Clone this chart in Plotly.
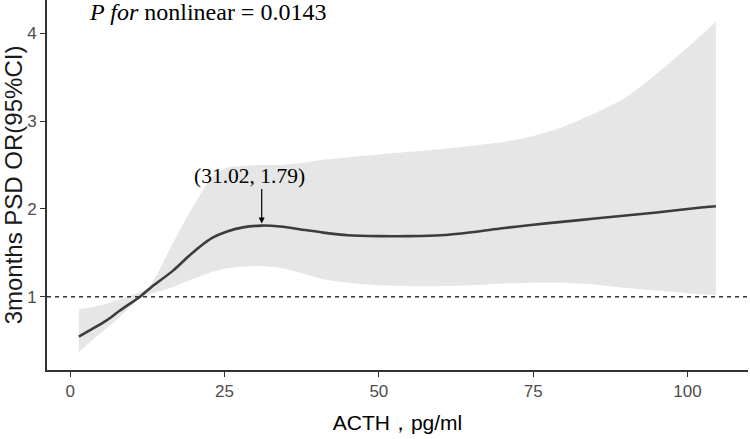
import plotly.graph_objects as go

# ACTH values (pg/ml) along the spline
acth = [1.4, 3, 5.9, 8, 11.3, 13, 16.7, 19, 21, 23, 25.3, 28, 31, 34, 38, 41, 45,
        50, 55, 60, 65, 70, 75, 80, 85, 90, 95, 100, 104.6]
# Odds ratio estimate
odds_ratio = [0.545, 0.61, 0.73, 0.84, 1.0, 1.10, 1.30, 1.45, 1.57, 1.67, 1.74, 1.79,
              1.81, 1.80, 1.76, 1.73, 1.70, 1.69, 1.69, 1.70, 1.735, 1.78, 1.82, 1.855,
              1.89, 1.925, 1.96, 2.0, 2.03]
# 95% CI upper bound
ci_upper = [0.86, 0.87, 0.92, 0.97, 1.05, 1.13, 1.62, 1.92, 2.16, 2.37, 2.47, 2.49,
            2.50, 2.50, 2.53, 2.56, 2.59, 2.62, 2.65, 2.68, 2.72, 2.76, 2.83, 2.94,
            3.09, 3.27, 3.54, 3.84, 4.13]
# 95% CI lower bound
ci_lower = [0.37, 0.47, 0.64, 0.77, 0.98, 1.03, 1.11, 1.18, 1.23, 1.28, 1.32, 1.34,
            1.35, 1.33, 1.26, 1.20, 1.16, 1.13, 1.12, 1.12, 1.13, 1.15, 1.16, 1.16,
            1.14, 1.10, 1.07, 1.04, 1.02]

x_ticks = [0, 25, 50, 75, 100]
y_ticks = [1, 2, 3, 4]
peak_x, peak_y = 31.02, 1.81
peak_label = "(31.02, 1.79)"
p_text = "<i>P for</i> nonlinear = 0.0143"

sans = "Liberation Sans, Arial, sans-serif"
serif = "Liberation Serif, Times New Roman, serif"

fig = go.Figure()
fig.add_trace(go.Scatter(
    x=acth, y=ci_lower, mode="lines", line=dict(width=0, shape="spline", smoothing=0.6),
    hoverinfo="skip", showlegend=False))
fig.add_trace(go.Scatter(
    x=acth, y=ci_upper, mode="lines", line=dict(width=0, shape="spline", smoothing=0.6),
    fill="tonexty", fillcolor="#E6E6E6", hoverinfo="skip", showlegend=False))
fig.add_trace(go.Scatter(
    x=acth, y=odds_ratio, mode="lines",
    line=dict(color="#3C3C3C", width=2.6, shape="spline", smoothing=0.8),
    showlegend=False))

fig.add_shape(type="line", xref="paper", yref="y", x0=0, x1=1, y0=1, y1=1,
              line=dict(color="#333333", width=1.5, dash="4px,4px"))

fig.add_annotation(x=peak_x, y=peak_y, ax=0, ay=-38, text="", showarrow=True,
                   arrowhead=2, arrowsize=1, arrowwidth=1.2, arrowcolor="black",
                   standoff=2)
fig.add_annotation(x=peak_x, y=peak_y, text=peak_label, showarrow=False,
                   xshift=-12, yshift=50, font=dict(family=serif, size=21.5, color="black"))
fig.add_annotation(xref="paper", yref="paper", x=(86.7 - 47) / 701, y=1 - 12 / 370,
                   xanchor="left", yanchor="middle", text=p_text, showarrow=False,
                   font=dict(family=serif, size=24, color="black"))

fig.update_layout(
    width=750, height=439,
    margin=dict(l=47, r=2, t=0, b=69),
    paper_bgcolor="white", plot_bgcolor="white",
    xaxis=dict(range=[-3.76, 109.8], tickvals=x_ticks, showgrid=False, zeroline=False,
               showline=True, linecolor="#333333", linewidth=1.6,
               ticks="outside", ticklen=5, tickwidth=1.2, tickcolor="#333333",
               tickfont=dict(family=sans, size=17, color="#4D4D4D"),
               ticklabelstandoff=0,
               title=dict(text="ACTH，pg/ml", standoff=15,
                          font=dict(family=sans, size=21, color="black"))),
    yaxis=dict(range=[0.165, 4.38], tickvals=y_ticks, showgrid=False, zeroline=False,
               showline=True, linecolor="#333333", linewidth=1.6,
               ticks="outside", ticklen=5, tickwidth=1.2, tickcolor="#333333",
               tickfont=dict(family=sans, size=17, color="#4D4D4D"),
               ticklabelstandoff=0,
               title=dict(text="3months PSD OR(95%CI)", standoff=6,
                          font=dict(family=sans, size=24, color="#1a1a1a"))),
)

fig.write_html("out.html", config={"displayModeBar": False},
               post_script="document.body.style.margin='0px';")
